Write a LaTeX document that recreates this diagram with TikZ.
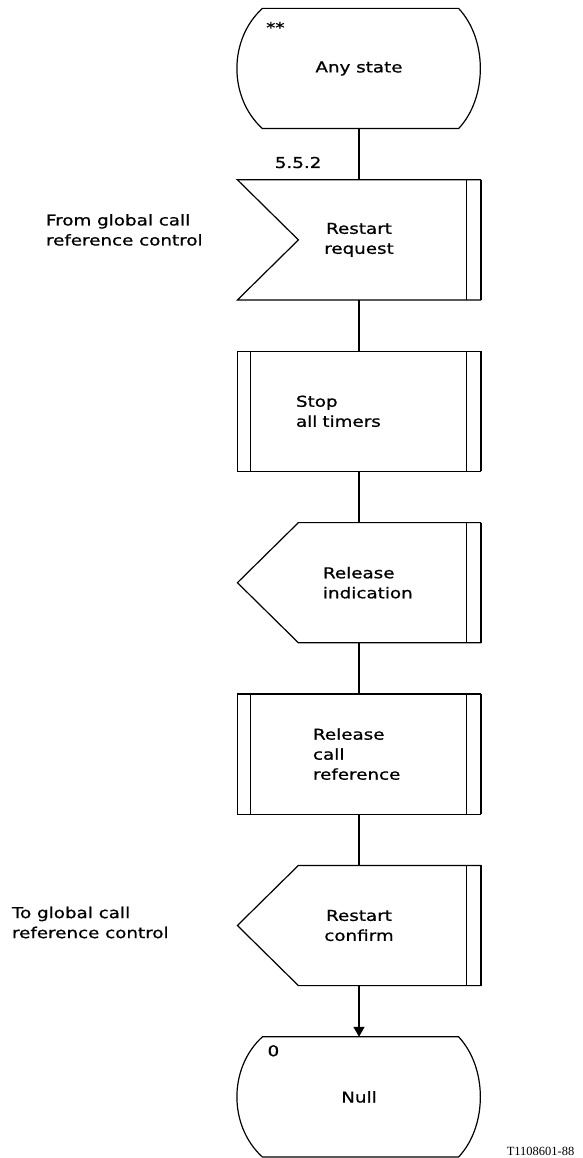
\documentclass[tikz,border=0pt]{standalone}
\usepackage{fontspec}
\setmainfont{DejaVu Sans}[FakeStretch=1.22, FakeBold=0.8]
\newfontfamily\tagfont{Liberation Serif}
\usetikzlibrary{arrows.meta,positioning}

%% SDL symbol outlines, drawn round an (invisible) node
\newcommand{\sdlstate}[1]{%
  \draw ([xshift=25]#1.north west) -- ([xshift=-22]#1.north east)
    .. controls ([xshift=7,yshift=-31]#1.north east) and ([xshift=7,yshift=31]#1.south east)
    .. ([xshift=-22]#1.south east) -- ([xshift=25]#1.south west)
    .. controls ([xshift=-9,yshift=31]#1.south west) and ([xshift=-9,yshift=-31]#1.north west)
    .. cycle;}
\newcommand{\sdlbar}[1]{%
  \draw ([xshift=-14]#1.north east) -- ([xshift=-14]#1.south east);
  \draw[line width=2.2pt] (#1.north east) -- (#1.south east);}
\newcommand{\sdlinput}[1]{%
  \draw (#1.north west) -- (#1.north east) -- (#1.south east) -- (#1.south west)
    -- ([xshift=61]#1.west) -- cycle;
  \sdlbar{#1}}
\newcommand{\sdloutput}[1]{%
  \draw ([xshift=61]#1.north west) -- (#1.north east) -- (#1.south east)
    -- ([xshift=61]#1.south west) -- (#1.west) -- cycle;
  \sdlbar{#1}}
\newcommand{\sdltask}[1]{%
  \draw (#1.north west) rectangle (#1.south east);
  \draw ([xshift=13]#1.north west) -- ([xshift=13]#1.south west);
  \sdlbar{#1}}

\begin{document}
\begin{tikzpicture}[x=1pt, y=-1pt, line width=1.2pt,
  font=\fontsize{15}{20}\selectfont, node distance=51.2pt,
  sym/.style={minimum width=242pt, minimum height=119pt, inner sep=0pt, align=center},
  side/.style={align=left, inner sep=0pt},
  >={Triangle[width=11pt,length=10pt]}]
  \useasboundingbox (0,0) rectangle (582,1158);

  %% Symbols
  \node[sym] (anystate) at (359,68.5) {Any state};
  \node[sym, below=of anystate] (rstreq) {Restart\\request};
  \node[sym, below=of rstreq, text width=126pt, align=left] (stoptmr) {Stop\\all timers};
  \node[sym, below=of stoptmr, text width=72pt, align=left] (relind) {Release\\indication};
  \node[sym, below=of relind, text width=92pt, align=left] (relref) {Release\\call\\reference};
  \node[sym, below=of relref] (rstcnf) {Restart\\confirm};
  \node[sym, below=of rstcnf] (nullst) {Null};

  \sdlstate{anystate}
  \sdlinput{rstreq}
  \sdltask{stoptmr}
  \sdloutput{relind}
  \sdltask{relref}
  \sdloutput{rstcnf}
  \sdlstate{nullst}

  %% State names
  \node (anytag) at ([xshift=38,yshift=-19]anystate.north west) {**};
  \node (nulltag) at ([xshift=36,yshift=-14]nullst.north west) {0};

  %% Flow lines
  \foreach \a/\b in {anystate/rstreq, rstreq/stoptmr, stoptmr/relind,
                     relind/relref, relref/rstcnf}
    \draw (\a) -- (\b);
  \draw[->] (rstcnf) -- (nullst);

  %% Side texts
  \node[anchor=south east, inner sep=0pt] (sigref) at ([xshift=-37,yshift=11]rstreq.north) {5.5.2};
  \node[side, anchor=west] (fromgcr) at ([xshift=-192,yshift=10]rstreq.west)
    {From global call\\reference control};
  \node[side, anchor=west] (togcr) at ([xshift=-226,yshift=3]rstcnf.west)
    {To global call\\reference control};
  \node[inner sep=0pt, font=\tagfont\fontsize{12.5}{14}\selectfont] (figtag)
    at ([xshift=60,yshift=6]nullst.south east) {T1108601-88};
\end{tikzpicture}
\end{document}
